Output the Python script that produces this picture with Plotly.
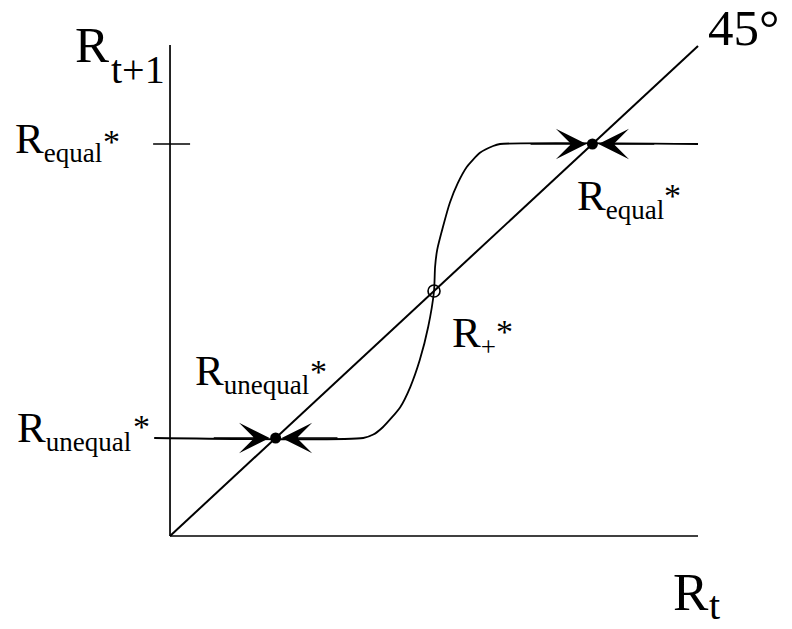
import plotly.graph_objects as go

# Steady states of the map R_{t+1} = f(R_t)
R_UNEQUAL = 2.0
R_PLUS = 5.0
R_EQUAL = 8.0

# Axis extents
X_END = 10.0
Y_END = 10.02

# 45-degree line
diag_x = [0.0, 10.0]
diag_y = [0.0, 10.0]

# The S-shaped map (flat at both steady states, steep through R+*)
map_x = [-0.30, 3.66, 3.85, 4.03, 4.36, 4.55, 4.73, 4.89, 5.00, 5.02, 5.06,
         5.17, 5.30, 5.45, 5.62, 5.87, 6.12, 6.25, 10.0]
map_y = [2.0, 2.0, 2.07, 2.22, 2.63, 3.04, 3.59, 4.27, 5.00, 5.49, 5.84,
         6.31, 6.80, 7.20, 7.53, 7.82, 7.96, 8.0, 8.0]

# Tick mark for R_equal* on the vertical axis
tick_x = [-0.32, 0.38]

FONT = "Liberation Serif"
INK = "black"

fig = go.Figure()

# axes
fig.add_trace(go.Scatter(x=[0, 0], y=[0, Y_END], mode="lines",
                         line=dict(color=INK, width=1.7), hoverinfo="skip"))
fig.add_trace(go.Scatter(x=[0, X_END], y=[0, 0], mode="lines",
                         line=dict(color=INK, width=1.7), hoverinfo="skip"))
fig.add_trace(go.Scatter(x=tick_x, y=[R_EQUAL, R_EQUAL], mode="lines",
                         line=dict(color=INK, width=1.4), hoverinfo="skip"))

# 45-degree line
fig.add_trace(go.Scatter(x=diag_x, y=diag_y, mode="lines",
                         line=dict(color=INK, width=2.0), hoverinfo="skip"))

# the map
fig.add_trace(go.Scatter(x=map_x, y=map_y, mode="lines",
                         line=dict(color=INK, width=1.8, shape="spline", smoothing=0.6),
                         hoverinfo="skip"))

# stable steady states
fig.add_trace(go.Scatter(x=[R_UNEQUAL, R_EQUAL], y=[R_UNEQUAL, R_EQUAL], mode="markers",
                         marker=dict(color=INK, size=11, line=dict(width=0)),
                         hoverinfo="skip"))
# unstable steady state
fig.add_trace(go.Scatter(x=[R_PLUS], y=[R_PLUS], mode="markers",
                         marker=dict(symbol="circle-open", color=INK, size=12,
                                     line=dict(width=1.6, color=INK)),
                         hoverinfo="skip"))


def arrow(x, y, tail_x):
    return dict(x=x, y=y, ax=tail_x, ay=y, xref="x", yref="y", axref="x", ayref="y",
                text="", showarrow=True, arrowhead=3, arrowsize=3.4, arrowwidth=1.5,
                arrowcolor=INK, standoff=6)


def text(s, x, y, size, xanchor="left"):
    return dict(x=x, y=y, xref="x", yref="y", text=s, showarrow=False,
                xanchor=xanchor, yanchor="middle",
                font=dict(family=FONT, size=size, color=INK))


def sub(s):
    return "<sub><span style='font-size:27px'>" + s + "</span></sub>"


annotations = [
    arrow(R_EQUAL, R_EQUAL, R_EQUAL - 1.2),
    arrow(R_EQUAL, R_EQUAL, R_EQUAL + 1.2),
    arrow(R_UNEQUAL, R_UNEQUAL, R_UNEQUAL - 1.2),
    arrow(R_UNEQUAL, R_UNEQUAL, R_UNEQUAL + 1.2),
    # axis titles
    text("R", -1.837, 10.024, 51),
    text("t+1", -1.150, 9.520, 40),
    text("R", 9.489, -1.145, 53),
    text("t", 10.170, -1.418, 40),
    text("45°", 10.152, 10.365, 51),
    # steady-state labels
    text("R" + sub("equal"), -2.973, 8.055, 43),
    text("*", -1.117, 8.060, 34, "center"),
    text("R" + sub("unequal"), -2.936, 2.157, 43),
    text("*", -0.540, 2.244, 34, "center"),
    text("R" + sub("unequal"), 0.436, 3.320, 43),
    text("*", 2.813, 3.367, 34, "center"),
    text("R" + sub("equal"), 7.670, 6.892, 43),
    text("*", 9.517, 6.958, 34, "center"),
    text("R" + sub("+"), 5.303, 4.096, 43),
    text("*", 6.335, 4.183, 34, "center"),
]

fig.update_layout(
    width=792, height=629,
    margin=dict(l=0, r=0, t=0, b=0),
    paper_bgcolor="white", plot_bgcolor="white",
    showlegend=False,
    xaxis=dict(range=[-3.220, 11.780], visible=False, fixedrange=True),
    yaxis=dict(range=[-1.898, 10.939], visible=False, fixedrange=True),
    annotations=annotations,
)

fig.write_html("out.html")
